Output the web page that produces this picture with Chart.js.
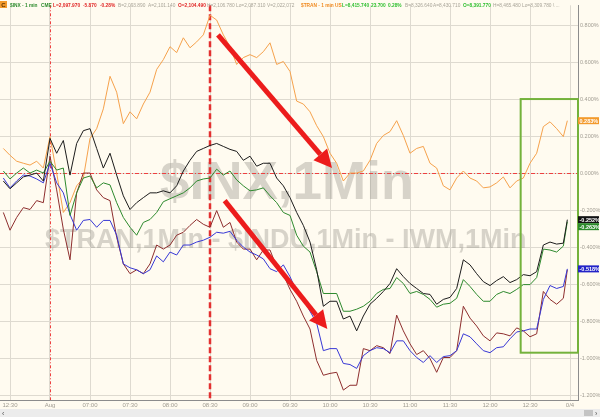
<!DOCTYPE html>
<html>
<head>
<meta charset="utf-8">
<script src="https://cdn.jsdelivr.net/npm/chart.js@4.4.1/dist/chart.umd.min.js"></script>
<style>
  html, body { margin: 0; padding: 0; background: #fffbf0; }
  canvas { display: block; }
</style>
</head>
<body>
<canvas id="chart" width="600" height="417"></canvas>
<script>
// minutes from the 06:30 open (negatives = prior session tail)
const minutes = [-35, -30, -25, -20, -15, -10, -5, 0, 5, 10, 15, 20, 25, 30, 35, 40, 45, 50, 55, 60,
  65, 70, 75, 80, 85, 90, 95, 100, 105, 110, 115, 120, 125, 130, 135, 140, 145, 150, 155, 160,
  165, 170, 175, 180, 185, 190, 195, 200, 205, 210, 215, 220, 225, 230, 235, 240, 245, 250, 255, 260,
  265, 270, 275, 280, 285, 290, 295, 300, 305, 310, 315, 320, 325, 330, 335, 340, 345, 350, 355, 360,
  365, 370, 375, 380, 385, 388];

const tranPct = [0.133, 0.096, 0.064, 0.053, 0.043, 0.064, 0.027,
  0.197, 0, -0.213, -0.16, -0.069, -0.027, 0.187,
  0.24, 0.347, 0.523, 0.437, 0.267, 0.331, 0.293, 0.373,
  0.437, 0.56, 0.613, 0.683, 0.651, 0.731, 0.677, 0.709,
  0.747, 0.853, 0.827, 0.747, 0.683, 0.587, 0.624,
  0.64, 0.624, 0.656, 0.704, 0.587, 0.603, 0.549,
  0.389, 0.373, 0.331, 0.256, 0.197, 0.107, 0.053, -0.043,
  0, 0, 0.011, 0.069, 0.16, 0.203, 0.224, 0.283,
  0.203, 0.107, 0.133, 0.144, 0.053, 0.027, -0.069,
  -0.091, -0.027, 0.011, -0.027, -0.043, -0.08, -0.075,
  -0.053, -0.021, -0.08, -0.043, -0.027, 0.053, 0.107, 0.251,
  0.277, 0.24, 0.197, 0.283];

const inxPct = [-0.043, -0.085, -0.053, -0.021, -0.011, 0, -0.043,
  0.187, 0.107, 0.176, -0.011, 0.16, 0.229, 0.24,
  0.133, 0.027, 0.107, -0.011, -0.123, -0.197, -0.16, -0.133,
  -0.107, -0.107, -0.096, -0.107, -0.069, 0.011, 0.069, 0.117,
  0.133, 0.149, 0.16, 0.144, 0.128, 0.117, 0.069,
  0.091, 0.037, 0.053, 0.053, -0.027, -0.069, -0.133,
  -0.213, -0.283, -0.373, -0.523, -0.72, -0.693, -0.693, -0.789,
  -0.773, -0.853, -0.773, -0.709, -0.677, -0.64, -0.597, -0.517,
  -0.56, -0.597, -0.624, -0.651, -0.656, -0.709, -0.683,
  -0.672, -0.624, -0.469, -0.496, -0.544, -0.587, -0.608,
  -0.581, -0.56, -0.592, -0.576, -0.549, -0.555, -0.533, -0.389,
  -0.373, -0.384, -0.379, -0.252];

const induPct = [0.011, -0.032, 0, 0.027, 0, 0.016, 0,
  0.064, 0.016, 0.027, -0.229, -0.107, -0.027, -0.016,
  -0.08, -0.053, -0.064, -0.16, -0.24, -0.293, -0.336, -0.267,
  -0.251, -0.213, -0.155, -0.139, -0.123, -0.107, -0.08, -0.043,
  -0.032, -0.027, 0.021, -0.011, 0.011, -0.037, -0.069,
  -0.096, -0.091, -0.08, -0.123, -0.16, -0.213, -0.229,
  -0.336, -0.395, -0.427, -0.533, -0.651, -0.651, -0.651, -0.747,
  -0.747, -0.736, -0.72, -0.693, -0.651, -0.629, -0.624, -0.565,
  -0.597, -0.651, -0.64, -0.656, -0.683, -0.725, -0.709,
  -0.704, -0.677, -0.576, -0.613, -0.656, -0.693, -0.693,
  -0.656, -0.64, -0.651, -0.629, -0.603, -0.603, -0.565, -0.411,
  -0.416, -0.427, -0.395, -0.263];

const bluePct = [-0.027, -0.08, -0.043, -0.011, -0.016, -0.032, -0.053,
  0.053, -0.053, -0.107, -0.224, -0.309, -0.256, -0.251,
  -0.293, -0.256, -0.256, -0.336, -0.491, -0.512, -0.523, -0.544,
  -0.523, -0.448, -0.48, -0.427, -0.443, -0.389, -0.389, -0.373,
  -0.363, -0.347, -0.32, -0.325, -0.315, -0.363, -0.4,
  -0.427, -0.443, -0.464, -0.517, -0.533, -0.496, -0.56,
  -0.64, -0.683, -0.747, -0.811, -0.96, -0.949, -0.949, -1.029,
  -1.035, -1.056, -0.987, -0.96, -0.944, -0.949, -0.971, -0.907,
  -0.907, -0.96, -0.997, -1.024, -0.987, -1.024, -0.992,
  -0.987, -0.96, -0.869, -0.885, -0.923, -0.96, -0.971,
  -0.944, -0.939, -0.896, -0.859, -0.853, -0.843, -0.843, -0.683,
  -0.608, -0.624, -0.613, -0.518];

const iwmPct = [-0.213, -0.309, -0.24, -0.187, -0.197, -0.149, -0.16,
  0.091, -0.091, -0.304, -0.469, -0.107, 0, 0,
  -0.091, -0.133, -0.149, -0.347, -0.491, -0.544, -0.523, -0.544,
  -0.491, -0.389, -0.411, -0.389, -0.336, -0.32, -0.283, -0.251,
  -0.277, -0.293, -0.203, -0.293, -0.267, -0.373, -0.411,
  -0.411, -0.469, -0.416, -0.416, -0.507, -0.549, -0.629,
  -0.693, -0.773, -0.843, -1.013, -1.093, -1.083, -1.077, -1.173,
  -1.147, -1.147, -0.949, -0.96, -0.933, -0.944, -0.976, -0.768,
  -0.853, -0.923, -0.981, -0.96, -1.003, -1.077, -0.997,
  -0.997, -0.96, -0.72, -0.784, -0.827, -0.88, -0.907,
  -0.864, -0.869, -0.88, -0.837, -0.853, -0.885, -0.869, -0.64,
  -0.683, -0.709, -0.677, -0.523];

const xTickMinutes = [-30, 0, 30, 60, 90, 120, 150, 180, 210, 240, 270, 300, 330, 360, 390];
const xTickLabels = ["12:30", "Aug", "07:00", "07:30", "08:00", "08:30", "09:00", "09:30",
  "10:00", "10:30", "11:00", "11:30", "12:00", "12:30", "0/4"];
const yTickValues = [-1.2, -1.0, -0.8, -0.6, -0.4, -0.2, 0, 0.2, 0.4, 0.6, 0.8];

const FONT = "'Liberation Sans', Arial, sans-serif";

// header quote strip
const header = [
  { t: "$INX - 1 min", x: 10, c: "#2e8b2e", b: true }, { t: "CME", x: 41, c: "#2e8b2e", b: true },
  { t: "L=2,097.970", x: 53, c: "#e02424", b: true }, { t: "-5.870", x: 83, c: "#e02424", b: true },
  { t: "-0.28%", x: 100, c: "#e02424", b: true }, { t: "B=2,093.890", x: 118, c: "#a8a498" },
  { t: "A=2,101.140", x: 148, c: "#a8a498" }, { t: "O=2,104.490", x: 178, c: "#e02424", b: true },
  { t: "H=2,106.780", x: 207, c: "#a8a498" }, { t: "Lo=2,087.310", x: 236, c: "#a8a498" },
  { t: "V=2,022,072", x: 267, c: "#a8a498" },
  { t: "$TRAN - 1 min", x: 301, c: "#f08a20", b: true }, { t: "US", x: 335, c: "#f08a20", b: true },
  { t: "L=8,415.740", x: 342, c: "#2fbf2f", b: true }, { t: "23.700", x: 371, c: "#2fbf2f", b: true },
  { t: "0.28%", x: 388, c: "#2fbf2f", b: true }, { t: "B=8,326.640", x: 405, c: "#a8a498" },
  { t: "A=8,430.710", x: 433, c: "#a8a498" }, { t: "O=8,391.770", x: 463, c: "#2fbf2f", b: true },
  { t: "H=8,465.480", x: 493, c: "#a8a498" }, { t: "Lo=8,309.780", x: 522, c: "#a8a498" },
  { t: "\\ ...", x: 553, c: "#a8a498" }
];

// annotations in data space (minutes, %)
const arrows = [
  { from: [126, 0.747], to: [211.5, 0.027] },
  { from: [131, -0.149], to: [208, -0.843] }
];
const highlightBox = { t0: 353, t1: 396, v0: 0.4, v1: -0.971 };

const series = [
  { label: "$TRAN", data: tranPct, color: "#f6a24c", box: "#f39a2c", tag: true },
  { label: "$INX", data: inxPct, color: "#1c1c1c", box: "#111111", tag: true },
  { label: "$INDU", data: induPct, color: "#2e8a2e", box: "#2b8a2b", tag: true },
  { label: "QQQ", data: bluePct, color: "#3838d6", box: "#2323c8", tag: true },
  { label: "IWM", data: iwmPct, color: "#8e2e2e", box: "#8e2e2e", tag: false }
];

function arrow(ctx, x1, y1, x2, y2) {
  const ang = Math.atan2(y2 - y1, x2 - x1);
  const head = 18, half = 9;
  const bx = x2 - head * Math.cos(ang), by = y2 - head * Math.sin(ang);
  ctx.strokeStyle = "#ec1c1c";
  ctx.fillStyle = "#ec1c1c";
  ctx.lineWidth = 5;
  ctx.lineCap = "butt";
  ctx.beginPath(); ctx.moveTo(x1, y1); ctx.lineTo(bx, by); ctx.stroke();
  ctx.beginPath();
  ctx.moveTo(x2, y2);
  ctx.lineTo(bx + half * Math.sin(ang), by - half * Math.cos(ang));
  ctx.lineTo(bx - half * Math.sin(ang), by + half * Math.cos(ang));
  ctx.closePath(); ctx.fill();
}

const overlay = {
  id: "overlay",
  beforeDraw(chart) {
    const ctx = chart.ctx;
    ctx.save();
    ctx.fillStyle = "#fffbf0";
    ctx.fillRect(0, 0, chart.width, chart.height);
    ctx.restore();
  },
  beforeDatasetsDraw(chart) {
    const { ctx, chartArea: a, scales: { x, y } } = chart;
    ctx.save();
    // watermarks
    ctx.fillStyle = "rgba(150, 146, 138, 0.38)";
    ctx.font = "bold 53px " + FONT;
    ctx.textBaseline = "alphabetic";
    ctx.fillText("$INX,1Min", 160, 199);
    ctx.font = "bold 27px " + FONT;
    ctx.fillText("$TRAN,1Min - $INDU,1Min - IWM,1Min", 45, 248);
    // zero line
    ctx.strokeStyle = "#ee4040";
    ctx.lineWidth = 1;
    ctx.setLineDash([4, 2, 1, 2]);
    const y0 = Math.round(y.getPixelForValue(0)) + 0.5;
    ctx.beginPath(); ctx.moveTo(a.left, y0); ctx.lineTo(a.right, y0); ctx.stroke();
    // session open (thin) and 08:30 (thick) markers
    const xo = Math.round(x.getPixelForValue(0)) + 0.5;
    ctx.setLineDash([3, 2, 1, 2]);
    ctx.beginPath(); ctx.moveTo(xo, a.top); ctx.lineTo(xo, a.bottom); ctx.stroke();
    const xm = Math.round(x.getPixelForValue(120));
    ctx.strokeStyle = "#e33030";
    ctx.lineWidth = 2.5;
    ctx.setLineDash([6, 3]);
    ctx.beginPath(); ctx.moveTo(xm, a.top); ctx.lineTo(xm, a.bottom); ctx.stroke();
    ctx.restore();
  },
  afterDatasetsDraw(chart) {
    const { ctx, scales: { x, y } } = chart;
    ctx.save();
    arrows.forEach(ar => arrow(ctx,
      x.getPixelForValue(ar.from[0]), y.getPixelForValue(ar.from[1]),
      x.getPixelForValue(ar.to[0]), y.getPixelForValue(ar.to[1])));
    const b = highlightBox;
    ctx.strokeStyle = "#74b23c";
    ctx.lineWidth = 2;
    const bx0 = x.getPixelForValue(b.t0), bx1 = x.getPixelForValue(b.t1);
    const by0 = y.getPixelForValue(b.v0), by1 = y.getPixelForValue(b.v1);
    ctx.strokeRect(bx0, by0, bx1 - bx0, by1 - by0);
    ctx.restore();
  },
  afterDraw(chart) {
    const { ctx, scales: { y }, chartArea: a } = chart;
    ctx.save();
    // last value tags on the price axis
    const tags = series.filter(s => s.tag).map(s => {
      const v = s.data[s.data.length - 1];
      return { v, py: y.getPixelForValue(v), box: s.box };
    }).sort((p, q) => p.py - q.py);
    let last = -99;
    ctx.font = "bold 5.5px " + FONT;
    ctx.textBaseline = "middle";
    tags.forEach(tg => {
      let py = Math.max(tg.py, last + 7);
      last = py;
      ctx.fillStyle = tg.box;
      ctx.fillRect(a.right, py - 3.5, 21, 7);
      ctx.fillStyle = "#ffffff";
      ctx.fillText(tg.v.toFixed(3) + "%", a.right + 1.5, py + 0.5);
    });
    // header strip
    ctx.fillStyle = "#f39a2c";
    ctx.fillRect(0, 1, 7, 7);
    ctx.fillStyle = "#5a3000";
    ctx.font = "bold 6px " + FONT;
    ctx.textBaseline = "alphabetic";
    ctx.fillText("C", 1.3, 7);
    header.forEach(h => {
      ctx.fillStyle = h.c;
      ctx.font = (h.b ? "bold " : "") + "4.8px " + FONT;
      ctx.fillText(h.t, h.x, 7);
    });
    // scroll strip at the bottom
    ctx.fillStyle = "#ececec";
    ctx.fillRect(0, 409, chart.width, 8);
    ctx.fillStyle = "#c4c4c4";
    ctx.fillRect(584, 410, 9, 6);
    ctx.fillStyle = "#555";
    ctx.font = "7px " + FONT;
    ctx.fillText("\u2039", 2, 416);
    ctx.fillText("\u203A", 595, 416);
    ctx.restore();
  }
};

new Chart(document.getElementById("chart").getContext("2d"), {
  type: "line",
  data: {
    datasets: series.map((s, i) => ({
      label: s.label,
      data: minutes.map((m, k) => ({ x: m, y: s.data[k] })),
      borderColor: s.color,
      borderWidth: 1,
      pointRadius: 0,
      tension: 0,
      fill: false,
      order: [4, 1, 2, 3, 3.5][i]
    }))
  },
  options: {
    responsive: false,
    animation: false,
    events: [],
    layout: { padding: 0 },
    plugins: { legend: { display: false }, tooltip: { enabled: false } },
    scales: {
      x: {
        type: "linear",
        min: -37.5,
        max: 396,
        afterBuildTicks: s => { s.ticks = xTickMinutes.map(v => ({ value: v })); },
        afterFit: s => { s.height = 17; s.paddingLeft = 0; s.paddingRight = 0; },
        ticks: {
          autoSkip: false, maxRotation: 0, padding: 2,
          color: "#a09c92", font: { size: 6, family: FONT },
          callback: (v, i) => xTickLabels[i]
        },
        grid: { color: "#dedad0", drawTicks: false },
        border: { color: "#8c8c8c" }
      },
      y: {
        position: "right",
        min: -1.2267,
        max: 0.9067,
        afterBuildTicks: s => { s.ticks = yTickValues.map(v => ({ value: v })); },
        afterFit: s => { s.width = 22; },
        ticks: {
          padding: 2,
          color: "#a09c92", font: { size: 5.5, family: FONT },
          callback: v => v.toFixed(3) + "%"
        },
        grid: { color: "#dedad0", drawTicks: false },
        border: { color: "#8c8c8c" }
      }
    }
  },
  plugins: [overlay]
});
</script>
</body>
</html>
